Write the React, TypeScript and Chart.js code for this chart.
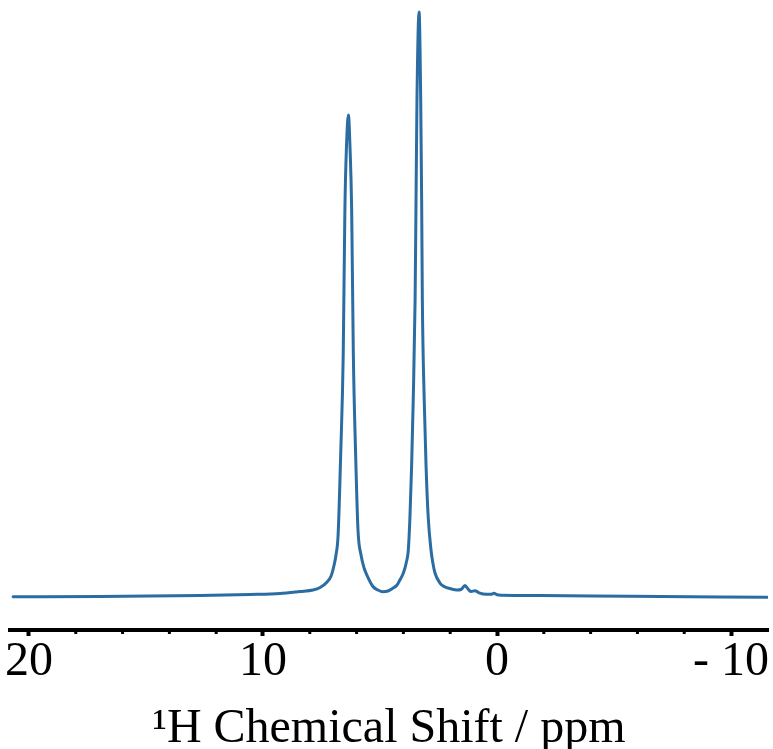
import React, { useEffect, useRef } from "react";
import { Chart, registerables } from "chart.js";

Chart.register(...registerables);

// 1H chemical shift (ppm) and relative intensity (% of strongest peak)
const shiftPpm = [
  20.68, 16.97, 12.69, 10.56, 9.27, 8.42, 7.86, 7.56, 7.26, 7.09, 6.97, 6.88, 6.79,
  6.68, 6.57, 6.5, 6.43, 6.35, 6.28, 6.21, 6.14, 6.04, 5.94, 5.81, 5.68, 5.56, 5.3,
  5.09, 4.87, 4.66, 4.44, 4.27, 4.15, 4.0, 3.87, 3.79, 3.72, 3.65, 3.58, 3.5, 3.46,
  3.42, 3.33, 3.26, 3.22, 3.19, 3.11, 3.03, 2.94, 2.82, 2.74, 2.65, 2.44, 2.22, 2.01,
  1.71, 1.54, 1.37, 1.22, 1.11, 0.94, 0.77, 0.44, 0.26, 0.13, 0.0, -0.21, -1.84,
  -5.68, -11.54,
];
const intensity = [
  0.05, 0.09, 0.26, 0.43, 0.6, 0.94, 1.2, 1.62, 2.56, 3.59, 5.3, 7.18, 10.6,
  24.27, 41.71, 66.15, 77.26, 82.39, 76.75, 66.15, 41.71, 24.27, 11.45, 7.18, 4.96, 3.76, 1.79,
  1.2, 0.91, 1.03, 1.54, 2.05, 2.91, 4.1, 5.98, 8.03, 13.68, 22.22, 33.68, 50.77, 67.86,
  84.96, 100, 84.96, 67.86, 50.77, 33.68, 22.22, 13.68, 8.03, 5.81, 4.1, 2.39, 1.71, 1.45,
  1.2, 1.28, 1.97, 1.28, 0.94, 1.08, 0.72, 0.46, 0.46, 0.63, 0.38, 0.31, 0.26,
  0.12, -0.03,
];

const majorTicks = [20, 10, 0, -10];
const tickLabels = ["20", "10", "0", "- 10"];
const minorTicks = [18, 16, 14, 12, 8, 6, 4, 2, -2, -4, -6, -8];
const axisTitle = "\u00B9H Chemical Shift / ppm";

const FONT = "'Liberation Serif', 'Times New Roman', serif";

export default function App() {
  const ref = useRef<HTMLCanvasElement | null>(null);

  useEffect(() => {
    document.body.style.margin = "0";
    const canvas = ref.current;
    if (!canvas) return;

    const minorTickPlugin = {
      id: "minorTicks",
      afterDraw(chart: any) {
        const xs = chart.scales.x;
        const ctx = chart.ctx;
        ctx.save();
        ctx.strokeStyle = "#000";
        ctx.lineWidth = 3;
        for (const v of minorTicks) {
          const px = xs.getPixelForValue(v);
          ctx.beginPath();
          ctx.moveTo(px, xs.top);
          ctx.lineTo(px, xs.top + 4);
          ctx.stroke();
        }
        ctx.restore();
      },
    };

    const chart = new Chart(canvas, {
      type: "line",
      data: {
        datasets: [
          {
            data: shiftPpm.map((x, i) => ({ x, y: intensity[i] })),
            borderColor: "#2b6ca3",
            borderWidth: 3,
            pointRadius: 0,
            fill: false,
            cubicInterpolationMode: "monotone",
            borderJoinStyle: "round",
            borderCapStyle: "round",
          },
        ],
      },
      options: {
        animation: false,
        responsive: false,
        devicePixelRatio: 1,
        layout: { padding: { left: 10, right: 5, top: 10, bottom: 0 } },
        plugins: {
          legend: { display: false },
          tooltip: { enabled: false },
        },
        scales: {
          x: {
            type: "linear",
            reverse: true,
            min: -11.58,
            max: 20.81,
            afterFit: (s: any) => {
              s.height = 119;
            },
            afterBuildTicks: (s: any) => {
              s.ticks = majorTicks.map((v) => ({ value: v }));
            },
            border: { display: true, color: "#000", width: 4 },
            grid: {
              drawOnChartArea: false,
              drawTicks: true,
              tickLength: 6,
              tickWidth: 4,
              tickColor: "#000",
            },
            ticks: {
              includeBounds: false,
              autoSkip: false,
              maxRotation: 0,
              padding: 2,
              color: "#000",
              font: { family: FONT, size: 48, lineHeight: 1 },
              callback: (v: any) => {
                const i = majorTicks.indexOf(Number(v));
                return i >= 0 ? tickLabels[i] : "";
              },
            },
            title: {
              display: true,
              text: axisTitle,
              color: "#000",
              font: { family: FONT, size: 48, lineHeight: 0.8 },
              padding: { top: 0, bottom: 0 },
            },
          },
          y: {
            type: "linear",
            display: false,
            min: -5.64,
            max: 100.34,
          },
        },
      },
      plugins: [minorTickPlugin],
    });

    return () => {
      chart.destroy();
    };
  }, []);

  return <canvas ref={ref} width={773} height={749} style={{ display: "block" }} />;
}
